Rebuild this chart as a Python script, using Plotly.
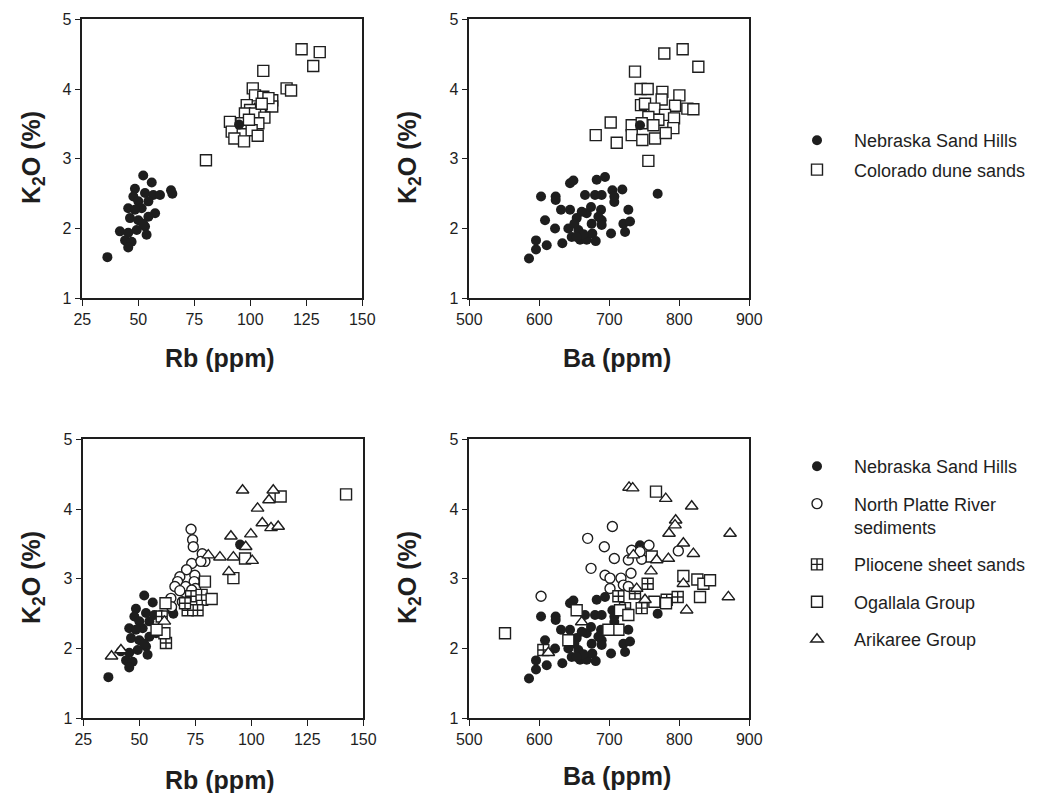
import plotly.graph_objects as go

# ---------------- data ----------------
# Nebraska Sand Hills
neb_rb = [36.2, 52.2, 56.0, 64.6, 65.2, 48.5, 53.0, 56.7, 59.7, 47.8, 50.0, 54.5, 45.5, 51.5, 57.5,
          46.3, 50.0, 54.5, 53.0, 41.8, 45.5, 49.3, 53.7, 44.1, 47.0, 45.5, 52.2, 48.5, 95.0]
neb_k2o_rb = [1.59, 2.76, 2.66, 2.55, 2.50, 2.57, 2.51, 2.48, 2.48, 2.46, 2.39, 2.39, 2.29, 2.29, 2.22,
              2.15, 2.12, 2.17, 2.03, 1.96, 1.94, 1.98, 1.91, 1.83, 1.81, 1.73, 2.07, 2.27, 3.49]
neb_ba = [585.3, 595.3, 595.3, 610.6, 608.2, 602.5, 622.5, 623.4, 623.4, 632.9, 631.0, 643.9, 643.9,
          648.7, 641.5, 646.3, 653.4, 655.8, 658.2, 665.3, 667.7, 667.7, 674.8, 675.8, 679.6, 680.6,
          682.0, 689.1, 688.2, 689.1, 689.1, 693.9, 702.5, 704.4, 707.2, 707.2, 718.6, 720.1, 722.5,
          727.2, 729.6, 743.9, 769.1, 660.6, 650.1, 662.9, 653.4, 673.9, 684.4]
neb_k2o_ba = [1.57, 1.70, 1.83, 1.76, 2.12, 2.46, 2.00, 2.46, 2.41, 1.79, 2.27, 2.27, 2.65, 2.69, 2.00,
              1.88, 2.15, 1.98, 1.84, 2.48, 2.22, 1.84, 2.07, 1.93, 2.48, 1.82, 2.70, 2.48, 2.27, 2.12,
              2.05, 2.74, 1.93, 2.55, 2.38, 2.46, 2.56, 2.07, 1.95, 2.27, 2.10, 3.48, 2.50, 2.24, 2.07,
              1.92, 1.88, 2.31, 2.17]

# Colorado dune sands
col_rb = [122.9, 131.0, 128.1, 105.8, 101.1, 116.2, 118.2, 102.1, 105.8, 109.8, 109.8, 98.4, 104.3,
          99.9, 97.6, 102.1, 106.3, 90.9, 96.1, 103.6, 91.7, 100.6, 103.3, 92.9, 97.2, 80.2, 99.4,
          108.1, 105.1]
col_k2o_rb = [4.57, 4.53, 4.33, 4.26, 4.01, 4.01, 3.98, 3.91, 3.89, 3.84, 3.75, 3.77, 3.72, 3.70, 3.65,
              3.65, 3.59, 3.53, 3.51, 3.51, 3.39, 3.41, 3.33, 3.29, 3.25, 2.98, 3.56, 3.87, 3.79]
col_ba = [804.8, 778.6, 827.2, 736.7, 744.8, 754.8, 775.8, 800.1, 774.8, 745.3, 751.0, 764.4, 793.9,
          811.5, 820.1, 779.6, 792.5, 770.1, 755.8, 702.0, 732.0, 746.3, 763.0, 791.5, 732.0, 680.6,
          710.6, 747.2, 765.3, 780.6, 755.8]
col_k2o_ba = [4.57, 4.51, 4.32, 4.25, 4.00, 4.00, 3.96, 3.91, 3.85, 3.77, 3.79, 3.72, 3.76, 3.72, 3.71,
              3.63, 3.58, 3.56, 3.60, 3.52, 3.48, 3.51, 3.48, 3.44, 3.34, 3.34, 3.23, 3.27, 3.29, 3.37,
              2.97]

# North Platte River sediments
np_rb = [73.1, 73.8, 74.1, 78.1, 79.3, 73.4, 71.1, 74.8, 68.1, 67.1, 74.5, 65.9, 70.7, 75.1, 68.1,
         64.1, 69.2, 64.4, 73.4, 77.5]
np_k2o_rb = [3.71, 3.56, 3.46, 3.36, 3.25, 3.22, 3.13, 3.05, 3.03, 2.96, 2.96, 2.89, 2.89, 2.86, 2.83,
             2.72, 2.67, 2.60, 2.84, 3.25]
np_ba = [602.5, 669.1, 704.4, 692.9, 707.2, 673.9, 693.9, 701.0, 716.7, 731.0, 727.2, 746.3, 756.7,
         732.0, 701.0, 720.1, 727.2, 798.6, 743.9]
np_k2o_ba = [2.75, 3.58, 3.75, 3.46, 3.29, 3.15, 3.05, 3.01, 3.01, 3.08, 3.27, 3.28, 3.48, 3.41, 2.86,
             2.91, 2.89, 3.40, 3.39]

# Pliocene sheet sands
pl_rb = [73.1, 78.1, 76.0, 71.6, 61.9, 60.0, 77.8, 70.4]
pl_k2o_rb = [2.75, 2.70, 2.55, 2.55, 2.08, 2.46, 2.77, 2.65]
pl_ba = [754.8, 736.7, 713.0, 746.3, 782.0, 797.7, 605.8, 722.5]
pl_k2o_ba = [2.93, 2.79, 2.75, 2.58, 2.70, 2.74, 1.98, 2.58]

# Ogallala Group
og_rb = [142.3, 113.1, 97.2, 92.0, 79.3, 82.3, 61.2, 61.7, 57.7]
og_k2o_rb = [4.21, 4.18, 3.29, 3.01, 2.96, 2.71, 2.22, 2.65, 2.27]
og_ba = [551.0, 766.7, 760.6, 805.8, 825.8, 834.4, 843.9, 829.6, 764.4, 781.0, 653.4, 715.3, 727.2,
         713.0, 641.5, 698.7]
og_k2o_ba = [2.22, 4.25, 3.32, 3.04, 2.99, 2.93, 2.98, 2.74, 2.67, 2.65, 2.55, 2.55, 2.48, 2.27, 2.12,
             2.27]

# Arikaree Group
ar_rb = [96.1, 109.8, 107.9, 102.8, 104.9, 108.8, 112.0, 90.9, 99.8, 97.5, 86.0, 92.0, 100.4, 90.0,
         80.8, 37.6, 41.8, 61.2]
ar_k2o_rb = [4.27, 4.27, 4.13, 4.01, 3.80, 3.73, 3.75, 3.61, 3.64, 3.46, 3.31, 3.31, 3.26, 3.10, 3.34,
             1.89, 1.98, 2.39]
ar_ba = [728.2, 733.4, 780.6, 817.7, 794.8, 793.9, 785.3, 805.8, 820.1, 784.4, 767.7, 759.6, 734.4,
         805.8, 810.5, 870.1, 872.5, 739.1, 751.0, 660.6, 612.9]
ar_k2o_ba = [4.31, 4.30, 4.15, 4.04, 3.84, 3.77, 3.65, 3.51, 3.36, 3.29, 3.27, 3.11, 3.34, 2.93, 2.55,
             2.74, 3.65, 2.86, 2.70, 2.38, 1.94]

rb_ticks = [25, 50, 75, 100, 125, 150]
ba_ticks = [500, 600, 700, 800, 900]
k2o_ticks = [1, 2, 3, 4, 5]

# ---------------- styling ----------------
INK = "#1e1e1e"
FONT = "Liberation Sans, Arial, Helvetica, sans-serif"
OFF = 8                      # page body margin of the html page
W, H = 1044 - OFF, 793 - OFF

fig = go.Figure()


def add(x, y, name, symbol, size, xa, ya, legend, show, rank, filled=False):
    if filled:
        marker = dict(symbol=symbol, size=size, color=INK, line=dict(width=0))
    else:
        marker = dict(symbol=symbol, size=size, color="white", line=dict(color=INK, width=1.4))
    fig.add_trace(go.Scatter(
        x=x, y=y, mode="markers", name=name, marker=marker,
        xaxis=xa, yaxis=ya, legend=legend, showlegend=show,
        legendgroup=legend + name, legendrank=rank,
    ))


# top-left (Rb) and top-right (Ba)
add(col_rb, col_k2o_rb, "Colorado dune sands", "square", 11, "x", "y", "legend", True, 2)
add(neb_rb, neb_k2o_rb, "Nebraska Sand Hills", "circle", 10, "x", "y", "legend", True, 1, filled=True)
add(col_ba, col_k2o_ba, "Colorado dune sands", "square", 11, "x2", "y2", "legend", False, 2)
add(neb_ba, neb_k2o_ba, "Nebraska Sand Hills", "circle", 10, "x2", "y2", "legend", False, 1, filled=True)

# bottom-left (Rb)
add(neb_rb, neb_k2o_rb, "Nebraska Sand Hills", "circle", 10, "x3", "y3", "legend2", True, 1, filled=True)
add(np_rb, np_k2o_rb, "North Platte River<br>sediments", "circle", 10, "x3", "y3", "legend2", True, 2)
add(pl_rb, pl_k2o_rb, "Pliocene sheet sands", "square-cross", 11, "x3", "y3", "legend2", True, 3)
add(og_rb, og_k2o_rb, "Ogallala Group", "square", 11, "x3", "y3", "legend2", True, 4)
add(ar_rb, ar_k2o_rb, "Arikaree Group", "triangle-up", 11, "x3", "y3", "legend2", True, 5)

# bottom-right (Ba)
add(neb_ba, neb_k2o_ba, "Nebraska Sand Hills", "circle", 10, "x4", "y4", "legend2", False, 1, filled=True)
add(np_ba, np_k2o_ba, "North Platte River<br>sediments", "circle", 10, "x4", "y4", "legend2", False, 2)
add(pl_ba, pl_k2o_ba, "Pliocene sheet sands", "square-cross", 11, "x4", "y4", "legend2", False, 3)
add(og_ba, og_k2o_ba, "Ogallala Group", "square", 11, "x4", "y4", "legend2", False, 4)
add(ar_ba, ar_k2o_ba, "Arikaree Group", "triangle-up", 11, "x4", "y4", "legend2", False, 5)


def px(xp):
    return (xp - OFF) / W


def py(yp):
    return 1 - (yp - OFF) / H


def xdom(a, b):
    return [px(a), px(b)]


def ydom(top, bottom):
    return [py(bottom), py(top)]


axis_common = dict(
    showline=True, linecolor=INK, linewidth=1.6, mirror=True,
    ticks="outside", ticklen=6, tickwidth=1.4, tickcolor=INK,
    showgrid=False, zeroline=False, automargin=False,
    tickfont=dict(family=FONT, size=16, color=INK),
    fixedrange=True,
)

xcfg = {
    "xaxis": (xdom(82.3, 362.3), [25, 150], rb_ticks, "y"),
    "xaxis2": (xdom(469.3, 749.3), [500, 900], ba_ticks, "y2"),
    "xaxis3": (xdom(83.3, 363.3), [25, 150], rb_ticks, "y3"),
    "xaxis4": (xdom(469.3, 749.3), [500, 900], ba_ticks, "y4"),
}
ycfg = {
    "yaxis": (ydom(19.3, 298.3), "x"),
    "yaxis2": (ydom(19.3, 298.3), "x2"),
    "yaxis3": (ydom(439.3, 718.3), "x3"),
    "yaxis4": (ydom(439.3, 718.3), "x4"),
}
layout_axes = {}
for k, (dom, rng, tv, anchor) in xcfg.items():
    layout_axes[k] = dict(axis_common, domain=dom, range=rng, tickvals=tv, anchor=anchor)
for k, (dom, anchor) in ycfg.items():
    layout_axes[k] = dict(axis_common, domain=dom, range=[1, 5], tickvals=k2o_ticks, anchor=anchor)

title_font = dict(family=FONT, size=25, color=INK, weight="bold")
annotations = []
for txt, cx, cy in [("Rb (ppm)", 220, 358), ("Ba (ppm)", 617, 358),
                    ("Rb (ppm)", 220, 780), ("Ba (ppm)", 617, 776)]:
    annotations.append(dict(text=txt, x=px(cx), y=py(cy), xref="paper", yref="paper",
                            showarrow=False, xanchor="center", yanchor="middle", font=title_font))
for cx, cy in [(33, 158), (409, 158), (33, 578), (409, 578)]:
    annotations.append(dict(text="K<sub>2</sub>O (%)", x=px(cx), y=py(cy), xref="paper",
                            yref="paper", showarrow=False, textangle=-90, xanchor="center",
                            yanchor="middle", font=title_font))

legend_font = dict(family=FONT, size=18, color=INK)
fig.update_layout(
    template="none",
    width=W, height=H,
    margin=dict(l=0, r=0, t=0, b=0, autoexpand=False),
    paper_bgcolor="white", plot_bgcolor="white",
    annotations=annotations,
    legend=dict(x=px(780), y=py(122), xanchor="left", yanchor="top", font=legend_font,
                bgcolor="rgba(0,0,0,0)", traceorder="grouped", tracegroupgap=3, itemwidth=64,
                itemclick=False, itemdoubleclick=False),
    legend2=dict(x=px(780), y=py(448), xanchor="left", yanchor="top", font=legend_font,
                 bgcolor="rgba(0,0,0,0)", traceorder="grouped", tracegroupgap=11, valign="top",
                 itemwidth=64, itemclick=False, itemdoubleclick=False),
    **layout_axes,
)

fig.write_html("out.html")
